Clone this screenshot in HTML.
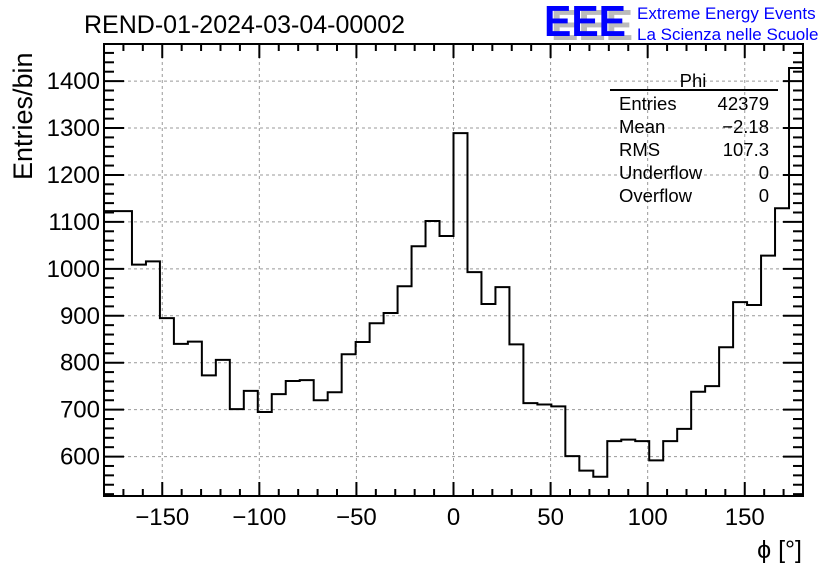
<!DOCTYPE html>
<html><head><meta charset="utf-8"><style>
html,body{margin:0;padding:0;background:#fff;}
svg{display:block;font-family:"Liberation Sans",Arial,sans-serif;}
</style></head><body>
<svg id="chart" width="836" height="572" viewBox="0 0 836 572">
  <text x="84" y="33" font-size="25" fill="#000">REND-01-2024-03-04-00002</text>
  <g>
    <text x="551" y="40" font-size="44" fill="#bbb" font-weight="bold" textLength="82" lengthAdjust="spacingAndGlyphs">EEE</text>
    <text x="544" y="36" font-size="44" fill="#0000ff" font-weight="bold" textLength="82" lengthAdjust="spacingAndGlyphs">EEE</text>
    <text x="637" y="19" font-size="17" fill="#0000ff">Extreme Energy Events</text>
    <text x="637" y="40" font-size="17" fill="#0000ff">La Scienza nelle Scuole</text>
  </g>
  <g id="grid"></g>
  <g id="hist"></g>
  <g id="axes"></g>
  <text transform="translate(32,180) rotate(-90)" font-size="27" text-anchor="start" x="0" y="0">Entries/bin</text>
  <text x="802" y="558" font-size="25" text-anchor="end">ϕ [°]</text>
  <g font-size="18.5">
    <text x="693" y="87" text-anchor="middle">Phi</text>
    <line x1="610" y1="90" x2="778" y2="90" stroke="#000" stroke-width="2"/>
    <text x="619" y="110">Entries</text>
    <text x="769" y="110" text-anchor="end">42379</text>
    <text x="619" y="133">Mean</text>
    <text x="769" y="133" text-anchor="end">−2.18</text>
    <text x="619" y="156">RMS</text>
    <text x="769" y="156" text-anchor="end">107.3</text>
    <text x="619" y="179">Underflow</text>
    <text x="769" y="179" text-anchor="end">0</text>
    <text x="619" y="202">Overflow</text>
    <text x="769" y="202" text-anchor="end">0</text>
  </g>
</svg>
<script>
const binCounts = [1123,1123,1009,1016,895,840,845,773,806,701,740,695,733,761,763,720,737,818,844,884,906,963,1048,1102,1070,
                   1289,993,925,961,839,714,711,707,601,570,557,633,636,633,592,633,659,738,750,833,929,923,1028,1129,1428];
const xRange = [-180, 180];
const yRange = [516, 1479];
const xTicks = [-150,-100,-50,0,50,100,150];
const yTicks = [600,700,800,900,1000,1100,1200,1300,1400];

const L=104,R=803,T=44,B=496;
const NS='http://www.w3.org/2000/svg';
function sx(v){return L+(v-xRange[0])/(xRange[1]-xRange[0])*(R-L);}
function sy(v){return B-(v-yRange[0])/(yRange[1]-yRange[0])*(B-T);}
function mk(tag,attrs,parent){const e=document.createElementNS(NS,tag);for(const k in attrs)e.setAttribute(k,attrs[k]);parent.appendChild(e);return e;}
const grid=document.getElementById('grid'),hist=document.getElementById('hist'),axes=document.getElementById('axes');

xTicks.forEach(v=>{
  const g=mk('line',{x1:sx(v),x2:sx(v),y1:T,y2:B,stroke:'#999','stroke-dasharray':'3,3','stroke-width':1},grid);
  
  
});
yTicks.forEach(v=>{
  const g=mk('line',{x1:L,x2:R,y1:sy(v),y2:sy(v),stroke:'#999','stroke-dasharray':'3,3','stroke-width':1},grid);
  
  
});

const n=binCounts.length, w=(xRange[1]-xRange[0])/n;
let d='';
binCounts.forEach((c,i)=>{
  const x0=sx(xRange[0]+i*w), x1=sx(xRange[0]+(i+1)*w), y=sy(c);
  d+=(i===0?'M':'L')+x0+','+y+'L'+x1+','+y;
});
const p=mk('path',{d:d,fill:'none',stroke:'#000','stroke-width':2},hist);



const fr=mk('rect',{x:L,y:T,width:R-L,height:B-T,fill:'none',stroke:'#000','stroke-width':2},axes);



for(let v=-180;v<=180;v+=10){
  const major=v%50===0, len=major?14:7;
  mk('line',{x1:sx(v),x2:sx(v),y1:B,y2:B-len,stroke:'#000','stroke-width':2},axes);
  mk('line',{x1:sx(v),x2:sx(v),y1:T,y2:T+len,stroke:'#000','stroke-width':2},axes);
}
xTicks.forEach(v=>{
  const t=mk('text',{x:sx(v),y:B+29,'font-size':24,'text-anchor':'middle'},axes);
  t.textContent=(v<0?'−':'')+Math.abs(v);
  
  
});
for(let v=520;v<=1480;v+=20){
  if(v<yRange[0]||v>yRange[1])continue;
  const major=v%100===0, len=major?20:10;
  mk('line',{x1:L,x2:L+len,y1:sy(v),y2:sy(v),stroke:'#000','stroke-width':2},axes);
  mk('line',{x1:R,x2:R-len,y1:sy(v),y2:sy(v),stroke:'#000','stroke-width':2},axes);
}
yTicks.forEach(v=>{
  const t=mk('text',{x:L-4,y:sy(v)+8,'font-size':24,'text-anchor':'end'},axes);
  t.textContent=String(v);
  
  
});
</script>
</body></html>
